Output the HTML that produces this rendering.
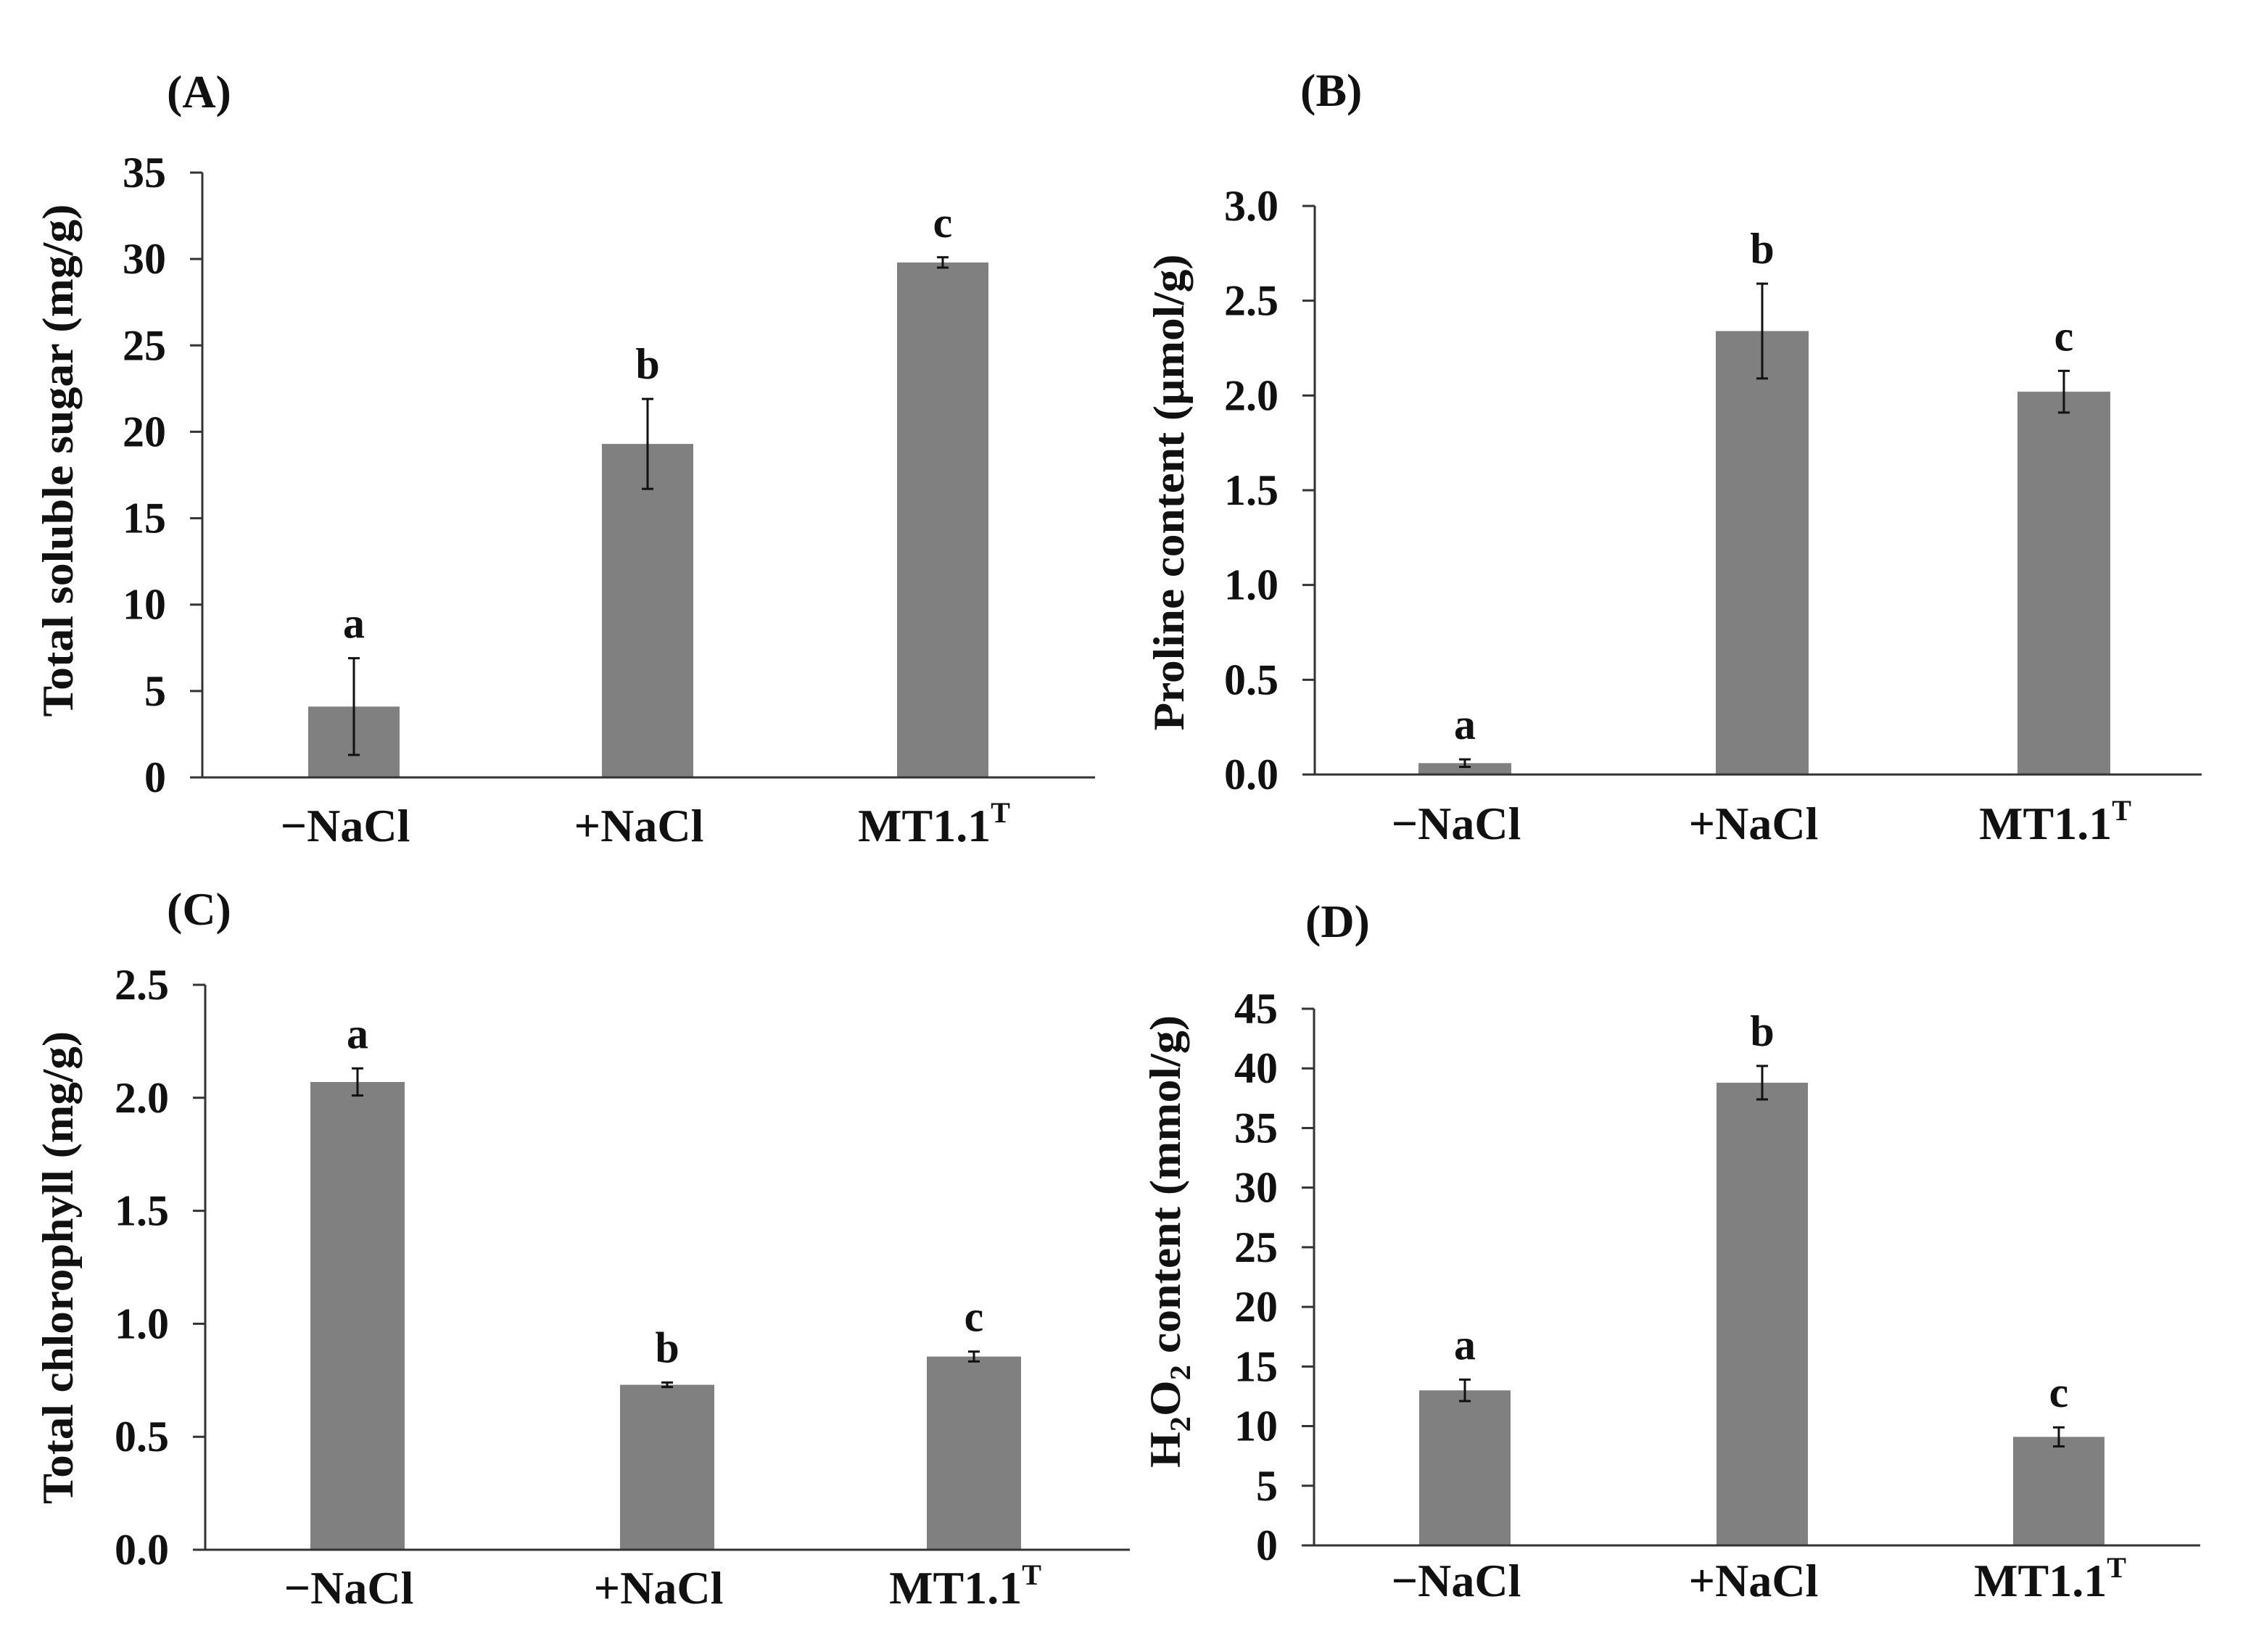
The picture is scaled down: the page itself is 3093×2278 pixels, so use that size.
<!DOCTYPE html>
<html><head><meta charset="utf-8"><style>
html,body{margin:0;padding:0;background:#fff;}
svg{display:block;}
text{font-family:"Liberation Serif",serif;font-weight:bold;fill:#111;}
</style></head>
<body>
<svg id="fig" width="3093" height="2278" viewBox="0 0 3093 2278" xmlns="http://www.w3.org/2000/svg"></svg>
<script>
const categories = ["−NaCl", "+NaCl", "MT1.1"];
const lettersA = ["a","b","c"];
const valuesA = [4.1, 19.3, 29.8];
const errA = [2.8, 2.6, 0.3];
const ticksA = ["0","5","10","15","20","25","30","35"];
const lettersB = ["a","b","c"];
const valuesB = [0.06, 2.34, 2.02];
const errB = [0.02, 0.25, 0.11];
const ticksB = ["0.0","0.5","1.0","1.5","2.0","2.5","3.0"];
const lettersC = ["a","b","c"];
const valuesC = [2.07, 0.73, 0.855];
const errC = [0.06, 0.01, 0.022];
const ticksC = ["0.0","0.5","1.0","1.5","2.0","2.5"];
const lettersD = ["a","b","c"];
const valuesD = [13.0, 38.8, 9.1];
const errD = [0.9, 1.4, 0.8];
const ticksD = ["0","5","10","15","20","25","30","35","40","45"];

const NS = "http://www.w3.org/2000/svg";
const svg = document.getElementById("fig");
function mk(tag, attrs, parent){
  const e = document.createElementNS(NS, tag);
  for (const k in attrs) e.setAttribute(k, attrs[k]);
  (parent||svg).appendChild(e);
  return e;
}

function panel(cfg){
  const g = mk("g", {});
  
  
  const ymax = parseFloat(cfg.ticks[cfg.ticks.length-1]);
  const yS = v => cfg.zero - (v / ymax) * (cfg.zero - cfg.top);
  const pl = mk("text", {x: cfg.lx, y: cfg.ly, "font-size": 64}, g);
  pl.textContent = "(" + cfg.id.toUpperCase() + ")";
  
  
  const ya = mk("line", {x1: cfg.ax, y1: cfg.top, x2: cfg.ax, y2: cfg.zero, stroke: "#333", "stroke-width": 3}, g);
  
  
  cfg.ticks.forEach(t => {
    const y = yS(parseFloat(t));
    const tk = mk("line", {x1: cfg.ax - 17, y1: y, x2: cfg.ax, y2: y, stroke: "#333", "stroke-width": 3}, g);
    
    
    const tl = mk("text", {x: cfg.ax - 50, y: y + 20, "font-size": 60, "text-anchor": "end"}, g);
    tl.textContent = t;
    
    
  });
  cfg.values.forEach((v, i) => {
    const x0 = cfg.bars[i];
    const w = cfg.bw;
    const b = mk("rect", {x: x0, y: yS(v), width: w, height: cfg.zero - yS(v), fill: "#808080"}, g);
    
    
    const cx = x0 + w/2;
    const e = cfg.err[i];
    const yt = yS(v + e), yb = yS(Math.max(0, v - e));
    const eb = mk("path", {d: `M${cx},${yt}V${yb}M${cx-8},${yt}H${cx+8}M${cx-8},${yb}H${cx+8}`, stroke: "#111", "stroke-width": 3, fill: "none"}, g);
    
    
    const lt = mk("text", {x: cx, y: yt - 28, "font-size": 60, "text-anchor": "middle"}, g);
    lt.textContent = cfg.letters[i];
    
    
    const xl = mk("text", {x: cx - 12, y: cfg.xly, "font-size": 64, "text-anchor": "middle"}, g);
    xl.textContent = categories[i];
    if (i === 2) {
      const sup = mk("tspan", {"font-size": 40, dy: -26}, xl);
      sup.textContent = "T";
    }
    
    
  });
  const xa = mk("line", {x1: cfg.ax - 17, y1: cfg.zero, x2: cfg.xend, y2: cfg.zero, stroke: "#333", "stroke-width": 3}, g);
  
  
  const tt = mk("text", {x: 0, y: 0, "font-size": 60, "text-anchor": "middle", textLength: cfg.tlen, lengthAdjust: "spacingAndGlyphs",
    transform: `translate(${cfg.tx},${cfg.ty}) rotate(-90)`}, g);
  
  
  cfg.title(tt);
}

panel({id:"a", values:valuesA, err:errA, ticks:ticksA, letters:lettersA,
  ax:279, top:238, zero:1072, xend:1510, bars:[425,830,1237], bw:126, xly:1160,
  lx:230, ly:148, tx:100, ty:635, tlen:707,
  title: t => { t.textContent = "Total soluble sugar (mg/g)"; }});
panel({id:"b", values:valuesB, err:errB, ticks:ticksB, letters:lettersB,
  ax:1813, top:284, zero:1068, xend:3036, bars:[1956,2366,2782], bw:128, xly:1157,
  lx:1793, ly:146, tx:1632, ty:679, tlen:657,
  title: t => { t.textContent = "Proline content (µmol/g)"; }});
panel({id:"c", values:valuesC, err:errC, ticks:ticksC, letters:lettersC,
  ax:283, top:1358, zero:2137, xend:1558, bars:[428,855,1278], bw:130, xly:2211,
  lx:230, ly:1275, tx:100, ty:1748, tlen:652,
  title: t => { t.textContent = "Total chlorophyll (mg/g)"; }});
panel({id:"d", values:valuesD, err:errD, ticks:ticksD, letters:lettersD,
  ax:1812, top:1391, zero:2131, xend:3034, bars:[1957,2367,2776], bw:126, xly:2201,
  lx:1800, ly:1292, tx:1627, ty:1712, tlen:624,
  title: t => {
    const a = mk("tspan", {}, t); a.textContent = "H";
    const b = mk("tspan", {"font-size": 40, dy: 14}, t); b.textContent = "2";
    const c = mk("tspan", {dy: -14}, t); c.textContent = "O";
    const d = mk("tspan", {"font-size": 40, dy: 14}, t); d.textContent = "2";
    const e = mk("tspan", {dy: -14}, t); e.textContent = " content (mmol/g)";
  }});
</script>
</body></html>
